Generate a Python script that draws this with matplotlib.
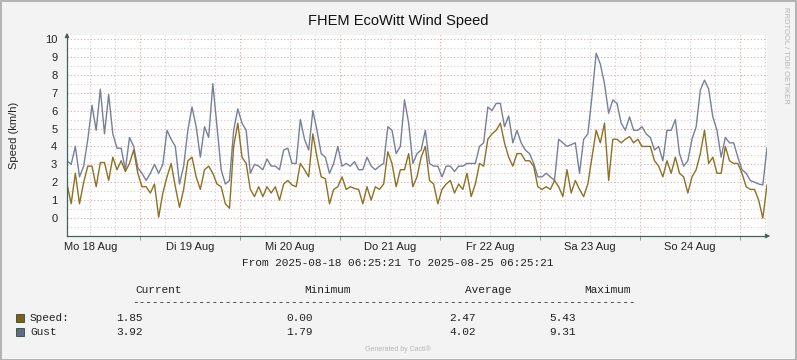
import datetime as dt
import numpy as np
import matplotlib
matplotlib.use("Agg")
import matplotlib.pyplot as plt

# hourly samples, starting 2025-08-18 06:25:21
speed = [1.9, 0.8, 2.5, 0.8, 2.0, 2.9, 2.9, 1.75, 3.1, 3.1, 2.1, 3.4, 2.7, 3.2, 2.6, 3.05,
         3.8, 2.5, 1.75, 1.75, 1.4, 1.9, 0.05, 1.4, 2.3, 3.05, 1.75, 0.6, 1.6, 3.2, 3.4, 2.3,
         1.6, 2.7, 2.9, 2.5, 1.9, 1.75, 0.8, 0.55, 4.0, 5.3, 3.4, 3.05, 1.6, 1.2, 1.75, 1.2,
         1.75, 1.4, 1.75, 1.0, 1.9, 2.1, 1.85, 1.75, 3.05, 2.7, 2.3, 4.7, 3.4, 2.3, 2.2, 0.8,
         1.6, 1.75, 2.3, 1.6, 1.75, 1.65, 1.6, 0.8, 1.75, 1.0, 1.75, 1.6, 1.9, 3.7, 3.05, 1.75,
         2.7, 2.7, 3.6, 1.75, 2.3, 3.4, 4.0, 2.1, 1.9, 0.8, 1.6, 1.9, 2.1, 1.4, 1.9, 1.6,
         2.5, 1.2, 1.9, 3.05, 2.9, 4.4, 4.7, 4.9, 5.3, 4.2, 3.4, 2.9, 3.6, 3.6, 3.2, 3.2,
         2.9, 1.75, 1.6, 1.75, 1.6, 2.1, 1.75, 1.2, 2.7, 1.4, 2.1, 1.6, 1.2, 1.9, 3.4, 4.9,
         4.2, 5.3, 2.1, 4.4, 4.4, 4.2, 4.4, 4.55, 4.2, 4.4, 4.0, 4.0, 4.0, 3.2, 2.9, 2.3,
         3.2, 2.5, 3.4, 2.5, 2.3, 1.4, 2.3, 2.7, 3.6, 4.9, 3.05, 3.4, 2.5, 2.5, 4.0, 3.2,
         3.05, 3.05, 2.5, 1.75, 1.6, 1.6, 1.0, 0.0, 1.85]
gust = [3.2, 3.0, 4.0, 2.3, 2.9, 4.4, 6.3, 4.9, 7.2, 4.7, 6.9, 4.7, 3.9, 3.9, 2.7, 4.5,
        4.0, 2.8, 2.5, 2.1, 2.5, 3.0, 2.5, 3.0, 4.9, 4.4, 4.0, 1.9, 2.9, 4.9, 6.2, 5.1,
        3.4, 5.1, 4.5, 7.5, 5.1, 2.7, 1.9, 2.1, 4.9, 6.1, 5.3, 4.9, 2.5, 3.0, 2.9, 2.7,
        3.3, 2.9, 2.9, 2.7, 3.8, 3.9, 3.05, 3.05, 5.5, 4.4, 3.8, 6.0, 4.9, 3.6, 3.4, 2.5,
        3.05, 4.0, 2.9, 3.05, 2.9, 3.15, 2.7, 2.7, 3.4, 2.9, 2.7, 2.9, 3.05, 5.1, 4.9, 3.6,
        4.0, 6.6, 5.3, 3.05, 3.6, 3.8, 4.9, 3.05, 2.9, 2.9, 2.3, 2.9, 2.9, 2.6, 2.9, 2.9,
        3.05, 3.05, 3.05, 4.0, 4.2, 6.2, 6.0, 6.4, 6.4, 5.1, 5.7, 4.2, 4.9, 4.2, 3.8, 3.6,
        3.05, 2.3, 2.3, 2.5, 2.3, 2.1, 4.4, 4.2, 4.0, 4.1, 4.2, 2.5, 4.4, 4.7, 6.8, 9.2,
        8.6, 7.5, 5.85, 6.6, 6.4, 5.3, 4.9, 5.65, 4.9, 4.9, 5.1, 4.7, 4.5, 3.8, 4.0, 3.2,
        4.9, 4.9, 5.5, 3.6, 2.9, 3.2, 4.4, 5.1, 7.15, 7.7, 7.2, 5.65, 4.9, 3.4, 4.5, 4.2,
        4.2, 3.4, 2.7, 2.5, 2.1, 2.0, 1.9, 1.85, 3.92]

day_labels = ["Mo 18 Aug", "Di 19 Aug", "Mi 20 Aug", "Do 21 Aug",
              "Fr 22 Aug", "Sa 23 Aug", "So 24 Aug"]
legend_names = ["Speed:", "Gust"]
stat_cols = ["Current", "Minimum", "Average", "Maximum"]
stat_vals = [["1.85", "0.00", "2.47", "5.43"],
             ["3.92", "1.79", "4.02", "9.31"]]

c_speed = "#8f7023"
c_gust = "#75809a"
box_cols = ["#7f5f12", "#5f6b80"]

start = dt.datetime(2025, 8, 18, 6, 25, 21)
end = start + dt.timedelta(days=7)
times = [start + dt.timedelta(hours=h) for h in range(len(speed))]

plt.rcParams['font.family'] = ['Liberation Sans', 'DejaVu Sans']
fig = plt.figure(figsize=(7.97, 3.6), dpi=100, facecolor="#f3f3f3")
ax = fig.add_axes([67/797, 1-236/360, 700/797, 201/360])
ax.set_facecolor("white")

ax.plot(times, gust, color=c_gust, lw=1.0, zorder=3)
ax.plot(times, speed, color=c_speed, lw=1.0, zorder=4)

ax.set_xlim(start, end)
ax.set_ylim(-1, 10.22)

# grid: gray minor, red major
day0 = dt.datetime(2025, 8, 19)
midnights = [day0 + dt.timedelta(days=i) for i in range(-1, 7)]
sixes = [dt.datetime(2025, 8, 18, 12) + dt.timedelta(hours=6*i) for i in range(28)]
for t in sixes:
    if t.hour != 0 and start < t < end:
        ax.axvline(t, color="#cfcfcf", lw=0.8, ls=(0, (1, 2)), zorder=1)
for t in midnights:
    if start < t < end:
        ax.axvline(t, color="#e2a7a7", lw=0.8, ls=(0, (1, 2)), zorder=1)
for v in np.arange(-0.5, 10.3, 0.5):
    if v == int(v):
        ax.axhline(v, color="#e2a7a7", lw=0.8, ls=(0, (1, 2)), zorder=1)
    else:
        ax.axhline(v, color="#cfcfcf", lw=0.8, ls=(0, (1, 2)), zorder=1)

noons = [dt.datetime(2025, 8, 18, 12) + dt.timedelta(days=i) for i in range(7)]
ax.set_xticks(noons)
ax.set_xticklabels(day_labels, fontsize=8, color="#222222")
ax.tick_params(axis="x", length=0, pad=4)
ax.set_xticks([t for t in midnights if start < t < end], minor=True)
ax.tick_params(axis="x", which="minor", length=3, color="#8c8c8c", direction="out")
ax.set_yticks(range(0, 11))
ax.set_yticklabels([str(i) for i in range(0, 11)], fontsize=8, color="#222222")
ax.tick_params(axis="y", length=0, pad=7)

for s in ["top", "right"]:
    ax.spines[s].set_visible(False)
for s in ["left", "bottom"]:
    ax.spines[s].set_color("#3c6658")
    ax.spines[s].set_linewidth(0.9)
ax.spines["left"].set_zorder(5)
ax.spines["bottom"].set_zorder(5)
ax.annotate("", xy=(67/797, 1-30/360), xytext=(67/797, 1-40/360), xycoords="figure fraction",
            arrowprops=dict(arrowstyle="-|>", color="#3c6658", lw=0.9, mutation_scale=6))
ax.annotate("", xy=(773/797, 1-236/360), xytext=(763/797, 1-236/360), xycoords="figure fraction",
            arrowprops=dict(arrowstyle="-|>", color="#3c6658", lw=0.9, mutation_scale=6))

ax.set_ylabel("Speed (km/h)", fontsize=8, color="#222222", labelpad=19)

fig.text(398/797, 1-21/360, "FHEM EcoWitt Wind Speed", ha="center", va="center",
         fontsize=10.5, color="#111111")
fig.text(786/797, 1-55/360, "RRDTOOL / TOBI OETIKER", rotation=270, ha="center", va="center",
         fontsize=5.5, color="#b5b5b5")

mono = "Liberation Mono"
fig.text(398/797, 1-263/360,
         "From " + start.strftime("%Y-%m-%d %H:%M:%S") + " To " + end.strftime("%Y-%m-%d %H:%M:%S"),
         ha="center", va="center", family=mono, fontsize=8, color="#222222")
col_x = [159, 327, 488, 607]
for name, x in zip(stat_cols, col_x):
    fig.text(x/797, 1-290/360, name, ha="center", va="center", family=mono, fontsize=8,
             color="#222222")
fig.text(384/797, 1-302/360, "-" * 76, ha="center", va="center", family=mono, fontsize=8,
         color="#222222")
val_x = [143, 313, 476, 576]
row_y = [318, 332]
for i in range(2):
    fig.patches.append(plt.Rectangle((16/797, 1-(row_y[i]+4)/360), 8/797, 8/360,
                                     transform=fig.transFigure, facecolor=box_cols[i],
                                     edgecolor="#2d4a40", lw=0.6))
    fig.text(30/797, 1-row_y[i]/360, legend_names[i], ha="left", va="center", family=mono,
             fontsize=8, color="#222222")
    for v, x in zip(stat_vals[i], val_x):
        fig.text(x/797, 1-row_y[i]/360, v, ha="right", va="center", family=mono, fontsize=8,
                 color="#222222")

fig.text(398/797, 1-349/360, "Generated by Cacti®", ha="center", va="center",
         fontsize=5, color="#b5b5b5")

fig.patches.append(plt.Rectangle((0.5/797, 0.5/360), 795.5/797, 358.5/360, transform=fig.transFigure,
                                 facecolor="none", edgecolor="#a8a8a8", lw=1.2))

fig.savefig("out.png", dpi=100, facecolor=fig.get_facecolor())
